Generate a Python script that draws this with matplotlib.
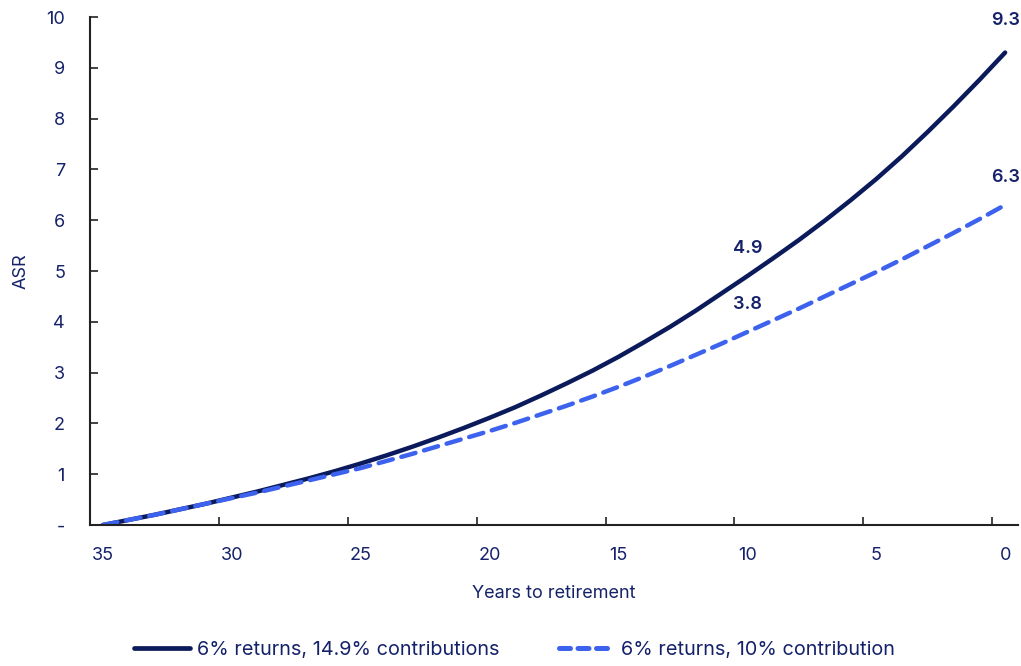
import numpy as np
import matplotlib.pyplot as plt
from matplotlib.lines import Line2D

plt.rcParams['font.family'] = ['Inter', 'DejaVu Sans']

# years to retirement, counting down from 35 to 0
years = list(range(35, -1, -1))

# ASR path, 6% returns with 14.9% contributions
asr_high = [0.00, 0.10, 0.20, 0.31, 0.42, 0.54, 0.66, 0.79, 0.92, 1.06,
            1.21, 1.37, 1.54, 1.72, 1.91, 2.11, 2.32, 2.55, 2.79, 3.04,
            3.31, 3.60, 3.90, 4.22, 4.56, 4.90, 5.25, 5.61, 5.99, 6.39,
            6.81, 7.26, 7.74, 8.24, 8.76, 9.30]

# ASR path, 6% returns with 10% contribution
asr_low = [0.00, 0.10, 0.20, 0.31, 0.42, 0.53, 0.64, 0.76, 0.88, 1.00,
           1.12, 1.26, 1.40, 1.55, 1.70, 1.85, 2.01, 2.18, 2.35, 2.53,
           2.72, 2.92, 3.13, 3.35, 3.57, 3.80, 4.03, 4.26, 4.50, 4.74,
           4.98, 5.23, 5.49, 5.75, 6.02, 6.30]

label_high = "6% returns, 14.9% contributions"
label_low = "6% returns, 10% contribution"
callout_years = [10, 0]

navy = "#0b1a5a"
blue = "#3d63ee"
text_col = "#15226a"

fig = plt.figure(figsize=(10.21, 6.66), dpi=100)
ax = fig.add_axes([90 / 1021, 1 - 525 / 666, 928 / 1021, 508 / 666])

ax.plot(years, asr_high, color=navy, linewidth=3.2, solid_capstyle='round')
ax.plot(years, asr_low, color=blue, linewidth=3.2, linestyle=(0, (3.3, 2)),
        dash_capstyle='round')

# value callouts above the lines
for yr in callout_years:
    i = years.index(yr)
    off_high = 17 if yr == 0 else 14
    ax.annotate(f"{asr_high[i]:.1f}", (yr, asr_high[i]), xytext=(0, off_high),
                textcoords='offset points', ha='center', va='bottom',
                fontsize=13, fontweight='semibold', color=text_col)
    ax.annotate(f"{asr_low[i]:.1f}", (yr, asr_low[i]), xytext=(0, 14),
                textcoords='offset points', ha='center', va='bottom',
                fontsize=13, fontweight='semibold', color=text_col)

ax.set_xlim(35.5, -0.5)
ax.set_ylim(0, 10)

# category-style axis: labels on the years, tick marks between them
ax.set_xticks(range(35, -1, -5))
ax.set_xticklabels([str(v) for v in range(35, -1, -5)])
ax.set_xticks([v + 0.5 for v in range(30, -1, -5)], minor=True)
ax.tick_params(axis='x', which='major', length=0, pad=16, labelsize=13,
               labelcolor=text_col)
ax.tick_params(axis='x', which='minor', direction='in', length=6, width=1.2,
               color='#222222')

ax.set_yticks(range(0, 11))
ax.set_yticklabels(['-'] + [str(v) for v in range(1, 11)])
ax.tick_params(axis='y', direction='in', length=6, width=1.2, color='#222222',
               pad=18, labelsize=13, labelcolor=text_col)

for side in ['top', 'right']:
    ax.spines[side].set_visible(False)
for side in ['left', 'bottom']:
    ax.spines[side].set_color('#222222')
    ax.spines[side].set_linewidth(1.5)

ax.set_xlabel("Years to retirement", fontsize=13, color=text_col, labelpad=15)
ax.set_ylabel("ASR", fontsize=13, color=text_col, labelpad=12)

handles = [Line2D([], [], color=navy, linewidth=3.4, solid_capstyle='round'),
           Line2D([], [], color=blue, linewidth=3.6, linestyle=(0, (2.2, 1.5)),
                  dash_capstyle='round')]
leg = fig.legend(handles, [label_high, label_low], loc='center',
                 bbox_to_anchor=(0.504, 1 - 650 / 666), ncol=2, frameon=False,
                 fontsize=14.3, handlelength=2.8, handletextpad=0.35,
                 columnspacing=3.0)
for t in leg.get_texts():
    t.set_color(text_col)

fig.savefig("out.png", dpi=100)
